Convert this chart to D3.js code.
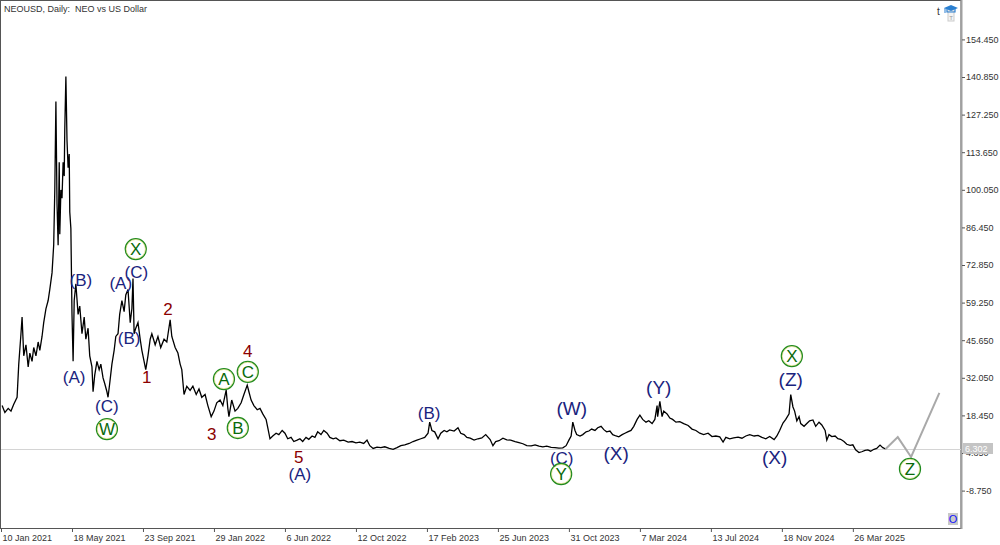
<!DOCTYPE html>
<html>
<head>
<meta charset="utf-8">
<script src="https://cdn.jsdelivr.net/npm/d3@7"></script>
<style>
    html, body { margin: 0; padding: 0; background: #fff; }
    svg { display: block; font-family: "Liberation Sans", Arial, sans-serif; }
</style>
</head>
<body>
<svg id="chart" width="1000" height="545"></svg>
<script>
// Daily closes: [days since 10 Jan 2021, price]
const startDate = '2021-01-10';
const priceSeries = [
    [2, 22], [7, 19.5], [13, 21], [18, 20], [23, 22.5], [29, 25], [32, 37], [36, 48], [38, 54],
    [41, 40], [45, 44], [49, 36], [52, 41], [56, 38], [59, 43], [63, 40], [67, 45], [70, 42],
    [74, 47], [77, 52], [81, 57], [85, 60], [88, 64], [92, 70], [95, 80], [97, 100], [99, 132],
    [101, 95], [103, 80], [105, 110], [106, 84], [108, 100], [110, 97], [112, 110], [114, 105],
    [115, 122], [117, 141], [119, 118], [121, 108], [123, 113], [124, 92], [126, 86], [128, 55],
    [130, 38], [132, 60], [135, 66], [139, 55], [142, 58], [146, 48], [150, 54], [153, 46],
    [157, 50], [160, 40], [164, 36], [166, 27], [169, 33], [173, 38], [177, 35], [180, 37],
    [184, 32], [187, 30], [191, 27], [193, 25], [196, 30], [200, 37], [204, 42], [207, 47],
    [211, 48], [214, 55], [218, 60], [222, 56], [225, 62], [229, 64], [233, 52], [236, 57],
    [238, 68], [240, 48], [243, 50], [247, 52], [251, 46], [254, 42], [258, 38], [261, 35],
    [265, 40], [269, 46], [272, 48], [278, 44], [283, 47], [288, 43], [294, 46], [299, 45],
    [305, 53], [308, 47], [314, 43], [319, 41], [323, 37], [326, 35], [330, 26], [335, 29],
    [341, 27.5], [346, 29], [352, 26], [357, 28], [362, 25], [368, 26], [373, 22], [379, 18],
    [384, 20], [389, 23], [395, 24], [400, 22], [406, 27.6], [409, 21], [411, 18], [416, 24],
    [422, 20], [427, 21], [433, 23], [438, 26], [444, 29.4], [447, 27], [451, 24], [456, 22],
    [462, 20.5], [467, 21], [472, 19], [478, 17], [481, 14], [485, 10], [490, 11], [496, 12],
    [501, 11.5], [507, 13], [512, 12], [517, 10], [523, 10.5], [528, 9], [534, 9.5], [539, 10],
    [544, 9], [550, 10.5], [555, 9.8], [561, 11], [566, 10.5], [571, 12.5], [577, 11.5],
    [582, 13], [588, 12], [593, 10.5], [599, 10], [604, 10.3], [611, 9.3], [618, 9.5],
    [626, 8.8], [633, 9], [640, 8.5], [647, 8.8], [654, 8.3], [660, 9.5], [665, 7.5],
    [671, 6.5], [678, 7], [685, 6.8], [692, 7.1], [700, 6.5], [707, 6.2], [714, 6.8],
    [721, 7.5], [728, 7.8], [736, 8.3], [743, 9], [750, 9.5], [757, 10], [764, 10.5],
    [770, 12], [773, 16], [777, 13], [782, 12.5], [788, 10], [793, 12], [799, 13], [804, 12.5],
    [809, 13.2], [817, 12.8], [824, 14], [829, 12], [835, 11.5], [840, 10.5], [846, 10.2],
    [853, 9.5], [860, 10], [867, 10.3], [874, 11.5], [882, 9.7], [887, 7.5], [892, 9],
    [898, 9.3], [905, 10.2], [912, 9.6], [919, 9.5], [927, 9], [934, 8.6], [941, 8.2],
    [948, 7.5], [956, 7.4], [963, 7.8], [970, 7.3], [977, 7.1], [984, 7.3], [992, 6.9],
    [999, 6.8], [1006, 6.6], [1013, 6.7], [1019, 7.5], [1024, 9.5], [1028, 11], [1031, 16],
    [1035, 13], [1038, 11.5], [1044, 11], [1049, 11.5], [1055, 12.5], [1060, 12.8],
    [1065, 13.5], [1071, 13], [1076, 14], [1082, 14.5], [1087, 13.3], [1092, 12.5],
    [1098, 12.8], [1103, 11.5], [1109, 11], [1114, 10.7], [1120, 11.5], [1125, 12],
    [1130, 12.5], [1136, 13], [1141, 14.5], [1147, 17], [1152, 18.5], [1157, 17], [1163, 16],
    [1168, 16.5], [1174, 15.5], [1179, 17], [1183, 22], [1184, 18], [1188, 23.5], [1192, 18],
    [1195, 20], [1201, 19], [1206, 17.5], [1211, 17], [1217, 16], [1224, 16.2], [1231, 15.5],
    [1239, 14.8], [1246, 13.5], [1253, 13], [1260, 12], [1267, 11.5], [1275, 12], [1282, 10.8],
    [1289, 11], [1296, 10.7], [1302, 8.8], [1307, 10.5], [1314, 10], [1321, 10.3],
    [1329, 10.6], [1336, 10.2], [1343, 11], [1350, 11.5], [1358, 11], [1365, 11.2],
    [1372, 10.5], [1379, 10], [1386, 10.8], [1394, 9.7], [1399, 11], [1404, 13], [1410, 15.7],
    [1415, 17], [1421, 19], [1424, 26], [1428, 21.5], [1431, 20], [1435, 16.5], [1439, 18],
    [1442, 15.5], [1448, 14.5], [1453, 15.5], [1458, 16.5], [1464, 16.8], [1469, 14.5],
    [1475, 16], [1480, 15], [1486, 13], [1489, 9.5], [1493, 11.5], [1498, 10.8], [1504, 11],
    [1509, 10], [1514, 9.8], [1520, 9], [1525, 8], [1531, 7.6], [1536, 7.8], [1541, 6],
    [1547, 5], [1552, 5.3], [1558, 5.8], [1563, 6], [1568, 5.5], [1574, 6.2], [1579, 6.5],
    [1585, 7.7], [1590, 6.8], [1595, 6.302]
];
const lastPrice = 6.302;

// Projected path after the last bar
const projection = [[1595, 6.302], [1617, 10.6], [1641, 3.4], [1692, 26.6]];

const xTickDates = ['2021-01-10', '2021-05-18', '2021-09-23', '2022-01-29', '2022-06-06',
    '2022-10-12', '2023-02-17', '2023-06-25', '2023-10-31', '2024-03-07', '2024-07-13',
    '2024-11-18', '2025-03-26'];
const yTicks = [-8.75, 4.85, 18.45, 32.05, 45.65, 59.25, 72.85, 86.45, 100.05, 113.65,
    127.25, 140.85, 154.45];

// Wave labels: [text, day, price]
const blueLabels = [
    ['(A)', 132, 32.0], ['(B)', 144, 67.4], ['(C)', 191, 21.5], ['(A)', 216, 66.3],
    ['(C)', 244, 70.3], ['(B)', 231, 46.4], ['(A)', 539, -3.1], ['(B)', 772, 19.3],
    ['(C)', 1011, 3.0]
];
const blueLabelsLarge = [
    ['(W)', 1029, 21.1], ['(X)', 1109, 4.85], ['(Y)', 1186, 28.4],
    ['(Z)', 1424, 31.3], ['(X)', 1395, 3.4]
];
const redLabels = [
    ['1', 263, 32.0], ['2', 301, 56.6], ['3', 380, 11.4], ['4', 445, 41.7], ['5', 537, 3.4]
];
const circleLabels = [
    ['W', 191, 13.5], ['X', 243, 78.6], ['A', 402, 31.6], ['C', 445, 34.2], ['B', 427, 13.9],
    ['Y', 1010, -2.75], ['X', 1426, 39.9], ['Z', 1639, -0.9]
];

const plot = { left: 1, right: 961, top: 1, bottom: 528 };

const parse = d3.utcParse('%Y-%m-%d');
const start = parse(startDate);
const toDate = day => d3.utcDay.offset(start, day);

const x = d3.scaleUtc()
    .domain([start, toDate(1731)])
    .range([plot.left, plot.right]);
const y = d3.scaleLinear()
    .domain([4.85, 154.45])
    .range([453, 39.4]);

const svg = d3.select('#chart');

// frame
svg.append('rect')
    .attr('x', 0.5).attr('y', 0.5)
    .attr('width', plot.right - 0.5).attr('height', plot.bottom)
    .attr('fill', 'none').attr('stroke', '#555');
svg.append('line')
    .attr('x1', plot.right + 0.5).attr('x2', plot.right + 0.5)
    .attr('y1', 0).attr('y2', plot.bottom + 1)
    .attr('stroke', '#a0a0a0').attr('stroke-width', 2);

svg.append('text')
    .attr('x', 4).attr('y', 12)
    .attr('font-size', 9).attr('fill', '#333')
    .attr('xml:space', 'preserve')
    .text('NEOUSD, Daily:  NEO vs US Dollar');

// current price line
const tagY = Math.round(y(lastPrice));
svg.append('line')
    .attr('x1', plot.left).attr('x2', plot.right)
    .attr('y1', tagY + 0.5).attr('y2', tagY + 0.5)
    .attr('stroke', '#d4d4d4');

// y axis
const yAxis = svg.append('g')
    .attr('transform', `translate(${plot.right + 1},0)`)
    .call(d3.axisRight(y).tickValues(yTicks).tickSize(3).tickPadding(1)
        .tickFormat(d => d.toFixed(3)));
yAxis.select('.domain').remove();
yAxis.selectAll('line').attr('stroke', '#555');
yAxis.selectAll('text').attr('font-size', 9).attr('fill', '#333')
    .attr('font-family', '"Liberation Sans", Arial, sans-serif');

// x axis
const xAxis = svg.append('g')
    .attr('transform', `translate(0,${plot.bottom})`)
    .call(d3.axisBottom(x).tickValues(xTickDates.map(parse)).tickSize(4).tickPadding(3)
        .tickFormat(d3.utcFormat('%-d %b %Y')));
xAxis.select('.domain').remove();
xAxis.selectAll('line').attr('stroke', '#555');
xAxis.selectAll('text').attr('font-size', 9).attr('fill', '#333')
    .attr('text-anchor', 'start').attr('x', 1)
    .attr('font-family', '"Liberation Sans", Arial, sans-serif');

// price
const line = d3.line()
    .x(d => x(toDate(d[0])))
    .y(d => y(d[1]));

svg.append('path')
    .attr('d', line(priceSeries))
    .attr('fill', 'none').attr('stroke', '#000').attr('stroke-width', 1.3);

svg.append('path')
    .attr('d', line(projection))
    .attr('fill', 'none').attr('stroke', '#a9a9a9').attr('stroke-width', 2);

// last price tag, sits over the 4.850 tick label as in the terminal
svg.append('rect')
    .attr('x', plot.right + 2).attr('y', tagY - 6)
    .attr('width', 30).attr('height', 11)
    .attr('fill', '#c4c4c4');
svg.append('text')
    .attr('x', plot.right + 4).attr('y', tagY + 3)
    .attr('font-size', 9).attr('fill', '#fff')
    .text(lastPrice.toFixed(3));

// wave labels
function placeLabel(sel) {
    sel.attr('x', d => x(toDate(d[1])))
        .attr('y', d => y(d[2]))
        .attr('text-anchor', 'middle')
        .attr('dominant-baseline', 'central')
        .text(d => d[0]);
}

svg.append('g').selectAll('text').data(blueLabels).enter().append('text')
    .call(placeLabel)
    .attr('font-size', 17).attr('fill', '#1a237e');

svg.append('g').selectAll('text').data(blueLabelsLarge).enter().append('text')
    .call(placeLabel)
    .attr('font-size', 19).attr('fill', '#1a237e');

svg.append('g').selectAll('text').data(redLabels).enter().append('text')
    .call(placeLabel)
    .attr('font-size', 17).attr('fill', '#8b0000');

const circles = svg.append('g').selectAll('g').data(circleLabels).enter().append('g')
    .attr('transform', d => `translate(${x(toDate(d[1]))},${y(d[2])})`);
circles.append('circle').attr('r', 10.5)
    .attr('fill', 'none').attr('stroke', '#1f8a1f').attr('stroke-width', 1.3);
circles.append('circle').attr('r', 9.6)
    .attr('fill', 'none').attr('stroke', '#d9d66a').attr('stroke-width', 0.6);
circles.append('text')
    .attr('text-anchor', 'middle').attr('dominant-baseline', 'central')
    .attr('y', 0.5)
    .attr('font-size', 17).attr('fill', '#0a6a0a')
    .text(d => d[0]);

// top-right icons
svg.append('text')
    .attr('x', 937).attr('y', 15).attr('font-size', 10).attr('fill', '#333').text('t');
const cap = svg.append('g').attr('transform', 'translate(951,9)');
cap.append('rect').attr('x', -3).attr('y', 2).attr('width', 6).attr('height', 10)
    .attr('fill', '#f4f4f4').attr('stroke', '#ccc');
cap.append('text').attr('x', 0).attr('y', 10.5).attr('text-anchor', 'middle')
    .attr('font-size', 6).attr('fill', '#999').text('T');
cap.append('path').attr('d', 'M-7,-1 L0,-4 L7,-1 L0,2 Z').attr('fill', '#2a7fd0');
cap.append('path').attr('d', 'M-4,0 L-4,3 L4,3 L4,0').attr('fill', 'none')
    .attr('stroke', '#2a7fd0').attr('stroke-width', 1.2);
cap.append('line').attr('x1', -6).attr('x2', -6).attr('y1', -1).attr('y2', 4)
    .attr('stroke', '#2a7fd0');

// bottom-right badge
svg.append('rect').attr('x', 948).attr('y', 513).attr('width', 10).attr('height', 12)
    .attr('fill', '#c8c8c8');
svg.append('text').attr('x', 953).attr('y', 523).attr('text-anchor', 'middle')
    .attr('font-size', 11).attr('fill', '#1010ff').text('O');
</script>
</body>
</html>
